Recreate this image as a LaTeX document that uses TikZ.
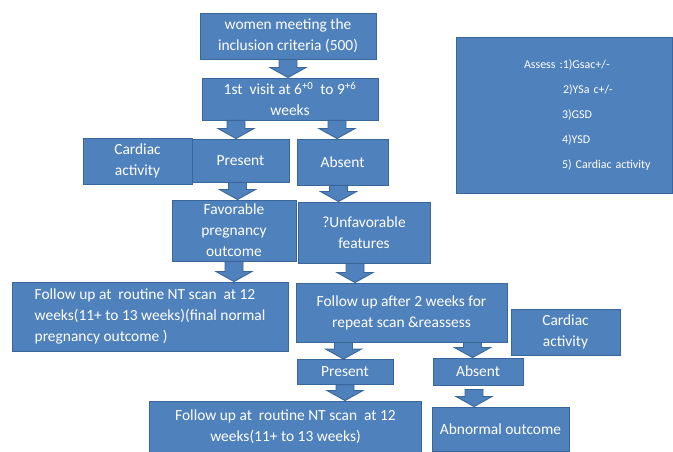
\documentclass[tikz,border=0pt]{standalone}
\usepackage{fontspec}
\setmainfont{Carlito}
\usetikzlibrary{calc}
\definecolor{boxblue}{HTML}{4F81BD}
\definecolor{boxline}{HTML}{3A679B}

\begin{document}
\begin{tikzpicture}[
    x = 1bp, y = -1bp,
    font = \fontsize{15.5}{21}\selectfont,
    stepbox/.style = {
      rectangle,
      draw = boxline, line width = .9bp,
      fill = boxblue,
      text = white,
      align = center,
      inner sep = 2bp,
    },
    fat/.style = {
      draw = boxline, line width = .9bp,
      fill = boxblue,
      to path = {
        let \p1 = (\tikztostart), \p2 = (\tikztotarget) in
        (\x1-9bp,\y1) -- (\x1+9bp,\y1) -- (\x1+9bp,\y2+10bp)
        -- (\x1+18bp,\y2+10bp) -- (\x1,\y2) -- (\x1-18bp,\y2+10bp)
        -- (\x1-9bp,\y2+10bp) -- cycle
      },
    },
  ]
  \useasboundingbox (0,0) rectangle (673,452);

  \node[stepbox, minimum width = 176bp, minimum height = 46bp] (women) at (288,36) {women meeting the\\inclusion criteria (500)};
  \node[stepbox, minimum width = 176bp, minimum height = 42bp] (visit) at (290,99) {1st\ \ visit at 6\textsuperscript{+0}\ \ to 9\textsuperscript{+6}\\weeks};
  \node[stepbox, minimum width = 109bp, minimum height = 46bp] (cardiacA) at (137.5,161) {Cardiac\\activity};
  \node[stepbox, minimum width = 97bp, minimum height = 43bp] (presentA) at (240.5,160.5) {Present};
  \node[stepbox, minimum width = 91bp, minimum height = 46bp] (absentA) at (342.5,162) {Absent};
  \node[stepbox, minimum width = 124bp, minimum height = 61bp] (favor) at (234,230.5) {Favorable\\pregnancy\\outcome};
  \node[stepbox, minimum width = 132bp, minimum height = 61bp] (unfavor) at (364,232.5) {?Unfavorable\\features};
  \node[stepbox, align = left, minimum width = 276bp, minimum height = 69bp] (followA) at (150,316.5) {Follow up at\ \ routine NT scan\ \ at 12\\weeks(11+ to 13 weeks)(final normal\\pregnancy outcome )};
  \node[stepbox, minimum width = 211bp, minimum height = 59bp] (followB) at (401.5,312.5) {Follow up after 2 weeks for\\repeat scan \&reassess};
  \node[stepbox, minimum width = 109bp, minimum height = 46bp] (cardiacB) at (565.5,332) {Cardiac\\activity};
  \node[stepbox, minimum width = 96bp, minimum height = 25bp] (presentB) at (345,372) {Present};
  \node[stepbox, minimum width = 90bp, minimum height = 27bp] (absentB) at (478,371.5) {Absent};
  \node[stepbox, minimum width = 272bp, minimum height = 52bp] (followC) at (285.5,427) {Follow up at\ \ routine NT scan\ \ at 12\\weeks(11+ to 13 weeks)};
  \node[stepbox, minimum width = 137bp, minimum height = 44bp] (abnormal) at (500.5,429) {Abnormal outcome};
  \node[stepbox, align = left, text width = 216bp, inner xsep = 0, minimum height = 156bp,
    font = \fontsize{12}{25}\selectfont] (assess) at (564,115) {%
    \hspace*{68bp}Assess :1)Gsac+/-\\
    \hspace*{107bp}2)YSa c+/-\\
    \hspace*{106bp}3)GSD\\
    \hspace*{106bp}4)YSD\\
    \hspace*{106bp}5) Cardiac\ activity};

  \begin{scope}
    \draw[fat] (women.south) to (visit.north);
    \draw[fat] ([xshift = -54bp]visit.south) to (presentA.north);
    \draw[fat] ([xshift = 47bp]visit.south) to (absentA.north);
    \draw[fat] ([xshift = -3bp]presentA.south) to (favor.north);
    \draw[fat] ([xshift = -4bp]absentA.south) to (unfavor.north);
    \draw[fat] (favor.south) to (followA.north);
    \draw[fat] ([xshift = -9bp]unfavor.south) to (followB.north);
    \draw[fat] ([xshift = -58bp]followB.south) to (presentB.north);
    \draw[fat] ([xshift = 71bp]followB.south) to (absentB.north);
    \draw[fat] (presentB.south) to (followC.north);
    \draw[fat] ([xshift = -4bp, yshift = -4bp]absentB.south) to (abnormal.north);
  \end{scope}

\end{tikzpicture}
\end{document}
